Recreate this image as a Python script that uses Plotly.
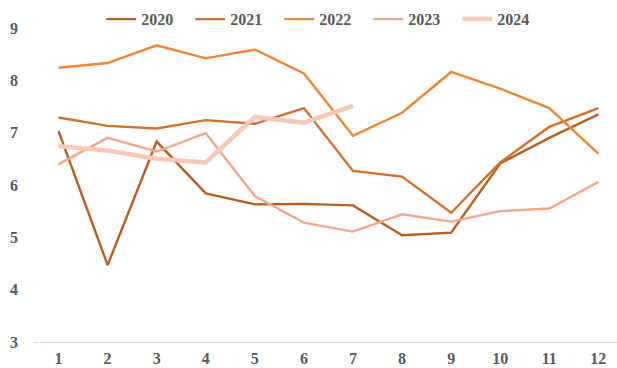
import plotly.graph_objects as go

months = [1, 2, 3, 4, 5, 6, 7, 8, 9, 10, 11, 12]

y2020 = [7.03, 4.47, 6.83, 5.84, 5.63, 5.64, 5.61, 5.04, 5.09, 6.41, 6.90, 7.35]
y2021 = [7.29, 7.13, 7.08, 7.24, 7.17, 7.47, 6.27, 6.16, 5.47, 6.43, 7.11, 7.47]
y2022 = [8.24, 8.33, 8.67, 8.42, 8.59, 8.13, 6.94, 7.38, 8.16, 7.84, 7.47, 6.60]
y2023 = [6.40, 6.90, 6.64, 6.99, 5.79, 5.28, 5.11, 5.44, 5.30, 5.50, 5.55, 6.06]
y2024 = [6.74, 6.66, 6.50, 6.43, 7.30, 7.19, 7.51]

series = [
    ("2020", y2020, "#B85E20", 2.4),
    ("2021", y2021, "#D46F2C", 2.4),
    ("2022", y2022, "#EF8535", 2.4),
    ("2023", y2023, "#F2A78A", 2.4),
    ("2024", y2024, "#F8C9B8", 4.5),
]

family = "Liberation Serif, Times New Roman, serif"
tick_font = dict(family=family, size=16, color="#595959", weight="bold")

fig = go.Figure()
for name, vals, color, width in series:
    fig.add_trace(go.Scatter(
        x=months[:len(vals)], y=vals, name=name, mode="lines",
        line=dict(color=color, width=width),
    ))

fig.update_layout(
    width=617, height=368,
    margin=dict(l=34, r=0, t=28, b=26, autoexpand=False),
    paper_bgcolor="white", plot_bgcolor="white",
    font=dict(family=family, size=16, color="#595959"),
    showlegend=True,
    legend=dict(
        orientation="h", x=0.497, xanchor="center", y=1.028, yanchor="middle",
        entrywidth=44, font=tick_font,
        bgcolor="rgba(0,0,0,0)",
    ),
    xaxis=dict(
        range=[0.5, 12.38], tickmode="array", tickvals=months,
        ticktext=[str(m) for m in months],
        showgrid=False, zeroline=False, automargin=False,
        showline=True, linecolor="#D9D9D9", linewidth=1,
        ticks="", ticklabelstandoff=2,
        tickfont=tick_font,
    ),
    yaxis=dict(
        range=[3, 9], dtick=1, showgrid=False, zeroline=False, showline=False,
        automargin=False,
        ticks="", ticklabelstandoff=15,
        tickfont=tick_font,
    ),
)

fig.write_html("out.html")
